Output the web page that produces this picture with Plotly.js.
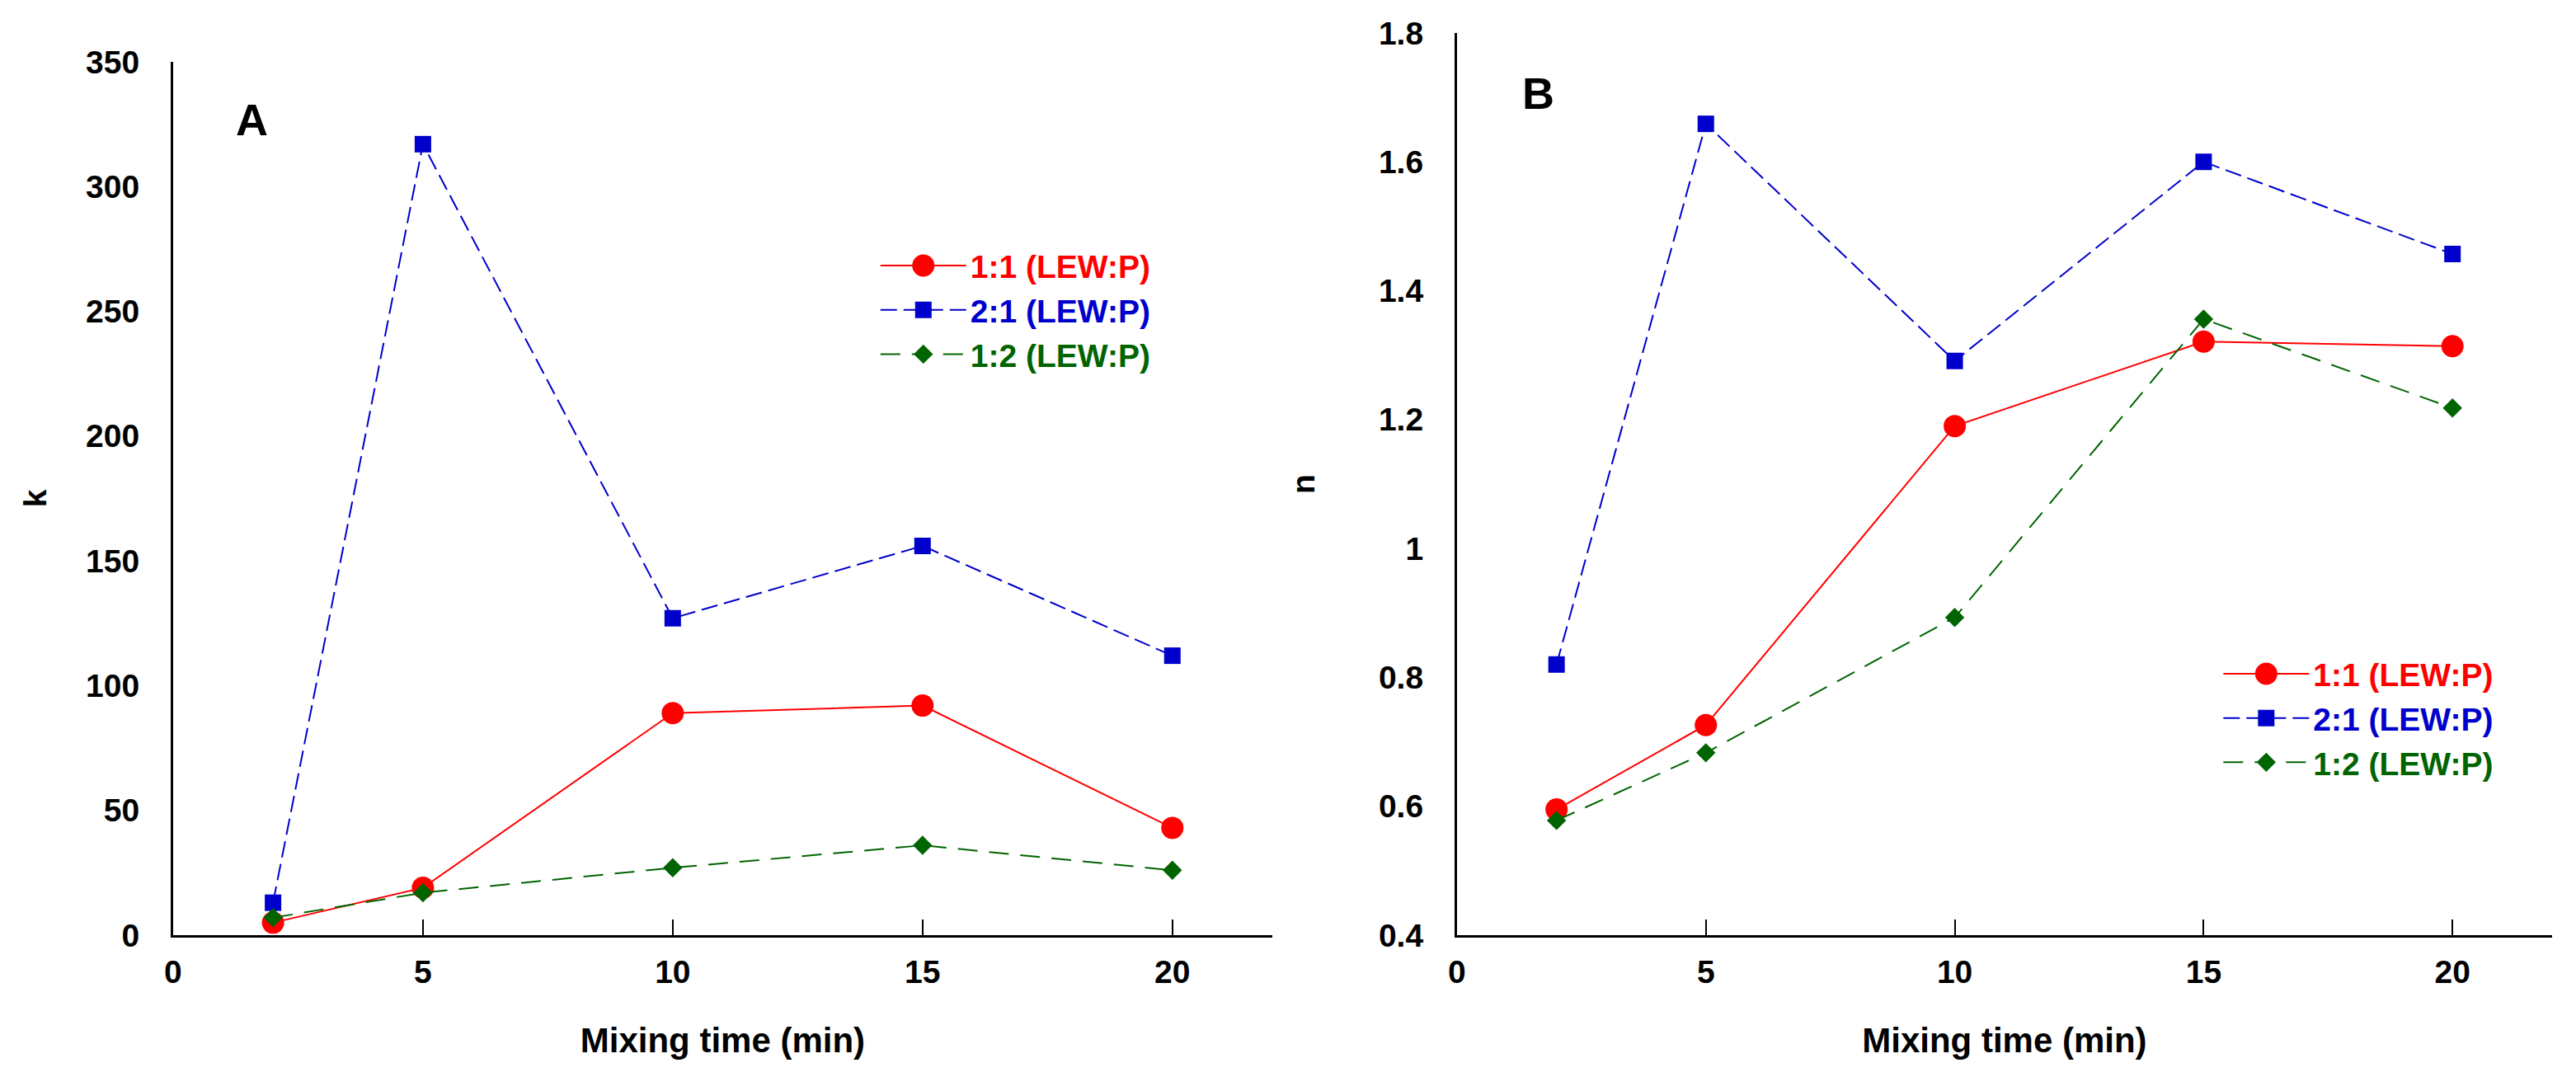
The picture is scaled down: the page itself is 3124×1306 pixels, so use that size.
<!DOCTYPE html>
<html>
<head>
<meta charset="utf-8">
<script src="https://cdn.plot.ly/plotly-3.0.1.min.js"></script>
<style>html,body{margin:0;padding:0;background:#fff;}#chart{width:3124px;height:1306px;}</style>
</head>
<body>
<div id="chart"></div>
<script>
// ---- data ----
const mixingTime = [2, 5, 10, 15, 20];
const seriesNames = ["1:1 (LEW:P)", "2:1 (LEW:P)", "1:2 (LEW:P)"];
const kRatio11 = [5, 19, 89, 92, 43];
const kRatio21 = [13, 317, 127, 156, 112];
const kRatio12 = [7, 17, 27, 36, 26];
const nRatio11 = [0.595, 0.726, 1.19, 1.321, 1.314];
const nRatio21 = [0.82, 1.659, 1.291, 1.60, 1.457];
const nRatio12 = [0.578, 0.683, 0.893, 1.356, 1.218];
const xTicks = [0, 5, 10, 15, 20];
const kTicks = [0, 50, 100, 150, 200, 250, 300, 350];
const nTicks = [0.4, 0.6, 0.8, 1, 1.2, 1.4, 1.6, 1.8];
const nTickText = ["0.4", "0.6", "0.8", "1", "1.2", "1.4", "1.6", "1.8"];

// ---- styles ----
const FONT = "Liberation Sans, Arial, sans-serif";
const colors = ["#FF0000", "#0000CC", "#006400"];
const symbols = ["circle", "square", "diamond"];
const msizes = [27, 20, 18];
const dashes = ["solid", "20px,8px", "24px,14px"];

function mk(y, i, xa, ya, leg) {
  return {
    x: mixingTime, y: y, type: "scatter", mode: "lines+markers",
    name: '<span style="color:' + colors[i] + '">' + seriesNames[i] + '</span>',
    xaxis: xa, yaxis: ya, legend: leg,
    line: {color: colors[i], width: 2, dash: dashes[i]},
    marker: {color: colors[i], symbol: symbols[i], size: msizes[i], line: {width: 0}}
  };
}

const data = [
  mk(kRatio11, 0, "x", "y", "legend"),
  mk(kRatio21, 1, "x", "y", "legend"),
  mk(kRatio12, 2, "x", "y", "legend"),
  mk(nRatio11, 0, "x2", "y2", "legend2"),
  mk(nRatio21, 1, "x2", "y2", "legend2"),
  mk(nRatio12, 2, "x2", "y2", "legend2")
];

const tickFont = {family: FONT, size: 39, weight: "bold", color: "#000"};
const xTitleFont = {family: FONT, size: 42, weight: "bold", color: "#000"};
const yTitleFont = {family: FONT, size: 39, weight: "bold", color: "#000"};

function xAxis(domain, anchor) {
  return {
    domain: domain, anchor: anchor, range: [0, 22],
    tickvals: xTicks, ticks: "inside", ticklen: 19, tickwidth: 2, tickcolor: "#000",
    showline: true, linewidth: 3, linecolor: "#000", showgrid: false, zeroline: false,
    tickfont: tickFont, ticklabelstandoff: 8,
    title: {text: "Mixing time (min)", font: xTitleFont, standoff: 48}
  };
}
function yAxis(domain, anchor, range, vals, text, title, standoff) {
  const a = {
    domain: domain, anchor: anchor, range: range,
    tickvals: vals, ticks: "", showline: true, linewidth: 3, linecolor: "#000",
    showgrid: false, zeroline: false, tickfont: tickFont, ticklabelstandoff: 30,
    title: {text: title, font: yTitleFont, standoff: standoff}
  };
  if (text) a.ticktext = text;
  return a;
}

const legendBase = {
  font: {family: FONT, size: 39, weight: "bold"},
  bgcolor: "rgba(0,0,0,0)", borderwidth: 0, itemwidth: 104,
  xanchor: "left", yanchor: "middle", tracegroupgap: 0
};

const layout = {
  width: 3124, height: 1306,
  margin: {l: 0, r: 0, t: 0, b: 0},
  paper_bgcolor: "#fff", plot_bgcolor: "#fff",
  showlegend: true,
  xaxis: xAxis([0.0672, 0.4939], "y"),
  yaxis: yAxis([0.1317, 0.9426], "x", [0, 350], kTicks, null, "k", 36),
  xaxis2: xAxis([0.5656, 0.9907], "y2"),
  yaxis2: yAxis([0.1317, 0.9694], "x2", [0.4, 1.8], nTicks, nTickText, "n", 66),
  legend: Object.assign({}, legendBase, {x: 0.3402, y: 0.712}),
  legend2: Object.assign({}, legendBase, {x: 0.8615, y: 0.333}),
  annotations: [
    {text: "A", xref: "x", yref: "y", x: 1.57, y: 327, showarrow: false,
     font: {family: FONT, size: 54, weight: "bold", color: "#000"}},
    {text: "B", xref: "x2", yref: "y2", x: 1.64, y: 1.707, showarrow: false,
     font: {family: FONT, size: 54, weight: "bold", color: "#000"}}
  ]
};

Plotly.newPlot("chart", data, layout, {displayModeBar: false, staticPlot: true}).then(function (gd) {
  // Plotly caps legend marker size at 16px; enlarge legend symbols to match the plotted markers
  const pts = gd.querySelectorAll(".legendpoints path.scatterpts");
  pts.forEach(function (p, idx) {
    const s = msizes[idx % 3];
    if (s > 16) {
      const t = p.getAttribute("transform") || "";
      p.setAttribute("transform", t + " scale(" + (s / 16) + ")");
    }
  });
});
</script>
</body>
</html>
